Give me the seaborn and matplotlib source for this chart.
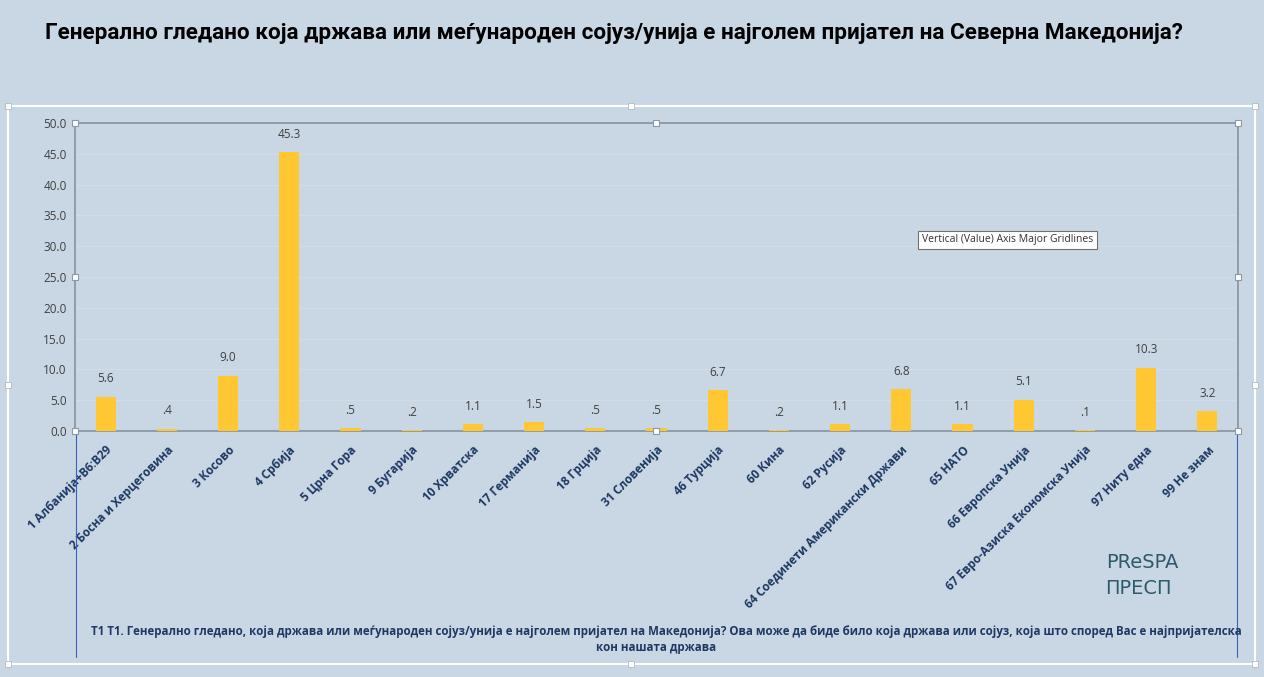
import pandas as pd
import matplotlib.pyplot as plt
import seaborn as sns

# podatoci od grafikot
drzavi = ['1 Албанија+B6:B29', '2 Босна и Херцеговина', '3 Косово', '4 Србија',
          '5 Црна Гора', '9 Бугарија', '10 Хрватска', '17 Германија', '18 Грција',
          '31 Словенија', '46 Турција', '60 Кина', '62 Русија',
          '64 Соединети Американски Држави', '65 НАТО', '66 Европска Унија',
          '67 Евро-Азиска Економска Унија', '97 Ниту една', '99 Не знам']
procenti = [5.6, 0.4, 9.0, 45.3, 0.5, 0.2, 1.1, 1.5, 0.5, 0.5, 6.7, 0.2, 1.1,
            6.8, 1.1, 5.1, 0.1, 10.3, 3.2]
y_ticks = [0, 5, 10, 15, 20, 25, 30, 35, 40, 45, 50]

naslov = 'Генерално гледано која држава или меѓународен сојуз/унија е најголем пријател на Северна Македонија?'
fusnota1 = 'Т1 Т1. Генерално гледано, која држава или меѓународен сојуз/унија е најголем пријател на Македонија? Ова може да биде било која држава или сојуз, која што според Вас е најпријателска'
fusnota2 = 'кон нашата држава'

df = pd.DataFrame({'drzava': drzavi, 'procent': procenti})

bg = '#C9D7E4'
navy = '#1F3864'

sns.set_style('white')
plt.rcParams['font.family'] = ['Open Sans', 'DejaVu Sans']

fig = plt.figure(figsize=(12.64, 6.77), dpi=100, facecolor=bg)
ax = fig.add_axes([75/1264, 1-431/677, (1238-75)/1264, (431-123)/677])
ax.set_facecolor(bg)

sns.barplot(data=df, x='drzava', y='procent', color='#FFC832', width=0.33,
            saturation=1, linewidth=0, ax=ax, zorder=3)

ax.set_ylim(0, 50)
ax.set_xlim(-0.5, len(drzavi) - 0.5)
ax.set_yticks(y_ticks)
ax.set_yticklabels([f'{t:.1f}' for t in y_ticks], fontsize=8.5, color='#404040')
ax.tick_params(axis='y', length=0, pad=6)
ax.tick_params(axis='x', length=0, pad=9)
ax.set_xticks(range(len(drzavi)))
ax.set_xticklabels(drzavi, rotation=45, ha='right', rotation_mode='anchor',
                   fontsize=8.5, fontweight='bold', color=navy)
ax.set_xlabel('')
ax.set_ylabel('')
ax.yaxis.grid(True, color='#D3DDE7', linewidth=0.7, zorder=0)
for s in ax.spines.values():
    s.set_color('#8C98A4')
    s.set_linewidth(1.3)

# vrednosti nad stolbovite
for i, v in enumerate(procenti):
    txt = f'{v:.1f}'
    if v < 1:
        txt = txt[1:]
    ax.annotate(txt, (i, v), xytext=(0, 8), textcoords='offset points',
                ha='center', va='bottom', fontsize=8.5, color='#404040')

fig.text(45/1264, 1-33/677, naslov, fontsize=16.2, fontweight='bold',
         color='black', va='center', ha='left',
         family=['Liberation Sans Narrow', 'Roboto', 'DejaVu Sans'])

fig.text(666/1264, 1-631/677, fusnota1, fontsize=8.3, fontweight='bold',
         color=navy, ha='center', va='center')
fig.text(656/1264, 1-648/677, fusnota2, fontsize=8.3, fontweight='bold',
         color=navy, ha='center', va='center')

# tooltip od Excel
fig.text(922/1264, 1-240/677, 'Vertical (Value) Axis Major Gridlines', fontsize=7.5,
         color='#333333', ha='left', va='center',
         bbox=dict(boxstyle='square,pad=0.35', fc='white', ec='#707070', lw=0.8))

# logo
fig.text(1142/1264, 1-562/677, 'PReSPA', fontsize=14, color='#2E5A6E',
         ha='center', va='center', family=['Liberation Sans Narrow', 'DejaVu Sans'])
fig.text(1138/1264, 1-588/677, 'ПРЕСП', fontsize=14, color='#2E5A6E',
         ha='center', va='center', family=['Liberation Sans Narrow', 'DejaVu Sans'])

# ramka na grafikot i sini linii
fig.add_artist(plt.Rectangle((8/1264, 1-664/677), (1255-8)/1264, (664-106)/677,
                             transform=fig.transFigure, fill=False, ec='white', lw=1.5))
fig.add_artist(plt.Line2D([76/1264, 76/1264], [1-431/677, 1-657/677],
                          transform=fig.transFigure, color='#3B5FBF', lw=0.8))
fig.add_artist(plt.Line2D([1237/1264, 1237/1264], [1-431/677, 1-657/677],
                          transform=fig.transFigure, color='#3B5FBF', lw=0.8))

# rachki za selekcija
hx = [75, 656, 1238, 75, 1238, 75, 656, 1238]
hy = [123, 123, 123, 277, 277, 431, 431, 431]
fig.add_artist(plt.Line2D([x/1264 for x in hx], [1-y/677 for y in hy],
                          transform=fig.transFigure, ls='none', marker='s',
                          ms=5, mfc='white', mec='#8C98A4', mew=0.8))
cx = [8, 631, 1255, 8, 1255, 8, 631, 1255]
cy = [106, 106, 106, 385, 385, 664, 664, 664]
fig.add_artist(plt.Line2D([x/1264 for x in cx], [1-y/677 for y in cy],
                          transform=fig.transFigure, ls='none', marker='s',
                          ms=5, mfc='white', mec='#B0B8C0', mew=0.6))

fig.savefig('out.png', dpi=100, facecolor=bg)
